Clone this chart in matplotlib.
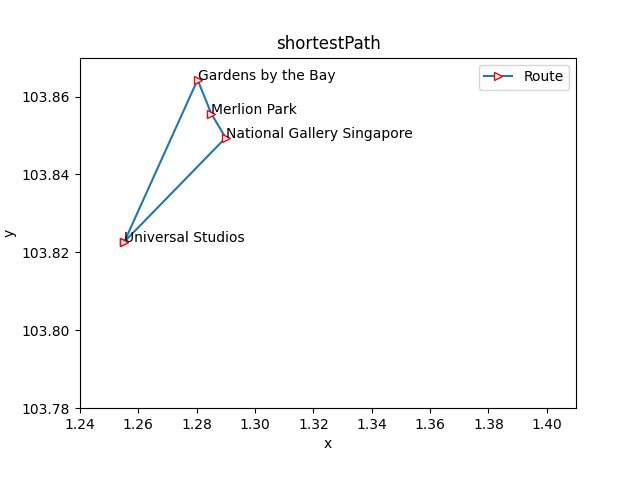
import matplotlib
matplotlib.use("Agg")
import matplotlib.pyplot as plt

names = ["Universal Studios", "Gardens by the Bay", "Merlion Park", "National Gallery Singapore", "Universal Studios"]
xs = [1.2552, 1.2803, 1.2850, 1.2899, 1.2552]
ys = [103.8227, 103.8643, 103.8556, 103.8494, 103.8227]

fig, ax = plt.subplots(figsize=(6.4, 4.8), dpi=100)
fig.subplots_adjust(bottom=0.15)
ax.plot(xs, ys, marker='>', color='tab:blue', mec='red', mfc='white', label='Route')
for n, x, y in zip(names[:-1], xs[:-1], ys[:-1]):
    ax.text(x, y, n)
ax.set_xlim(1.24, 1.41)
ax.set_ylim(103.78, 103.87)
ax.set_title("shortestPath")
ax.set_xlabel("x")
ax.set_ylabel("y")
ax.legend(loc='upper right')
fig.savefig("out.png")
